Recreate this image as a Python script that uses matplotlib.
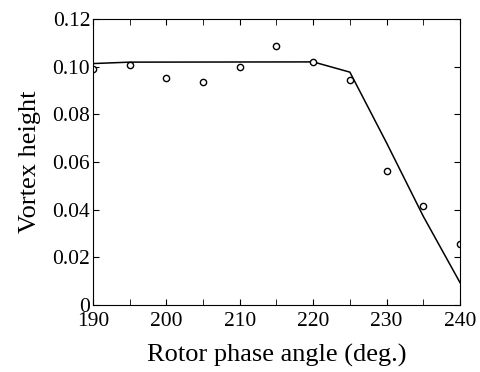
import numpy as np
import matplotlib.pyplot as plt
from matplotlib.ticker import MultipleLocator

# Messpunkte
phase_exp = [190, 195, 200, 205, 210, 215, 220, 225, 230, 235, 240]
height_exp = [0.0989, 0.1008, 0.0952, 0.0935, 0.0997, 0.1086, 0.1020, 0.0946, 0.0564, 0.0415, 0.0258]

# Modellkurve
phase_fit = [190, 195, 220, 225, 230, 235, 240]
height_fit = [0.1013, 0.1019, 0.1020, 0.0977, 0.0680, 0.0372, 0.0094]

plt.rcParams['font.family'] = ['Liberation Serif', 'DejaVu Serif']

fig = plt.figure(figsize=(4.81, 3.72), dpi=100)
ax = fig.add_axes([93/481, 1 - 305/372, (460-93)/481, (305-19)/372])

ax.plot(phase_fit, height_fit, color='black', lw=1.1)
ax.plot(phase_exp, height_exp, 'o', mfc='white', mec='black', ms=4.5, mew=1.0)

ax.set_xlim(190, 240)
ax.set_ylim(0, 0.12)
ax.xaxis.set_major_locator(MultipleLocator(10))
ax.xaxis.set_minor_locator(MultipleLocator(5))
ax.set_yticks([0, 0.02, 0.04, 0.06, 0.08, 0.10, 0.12])
ax.set_yticklabels(['0', '0.02', '0.04', '0.06', '0.08', '0.10', '0.12'])
ax.tick_params(which='both', direction='in', top=True, right=True, labelsize=15.5)
ax.tick_params(axis='x', which='both', pad=5)
ax.tick_params(axis='y', which='both', pad=2)
ax.tick_params(which='both', length=4)

ax.set_xlabel('Rotor phase angle (deg.)', fontsize=19, labelpad=9)
ax.set_ylabel('Vortex height', fontsize=19, labelpad=8)

fig.savefig('out.png', dpi=100)
